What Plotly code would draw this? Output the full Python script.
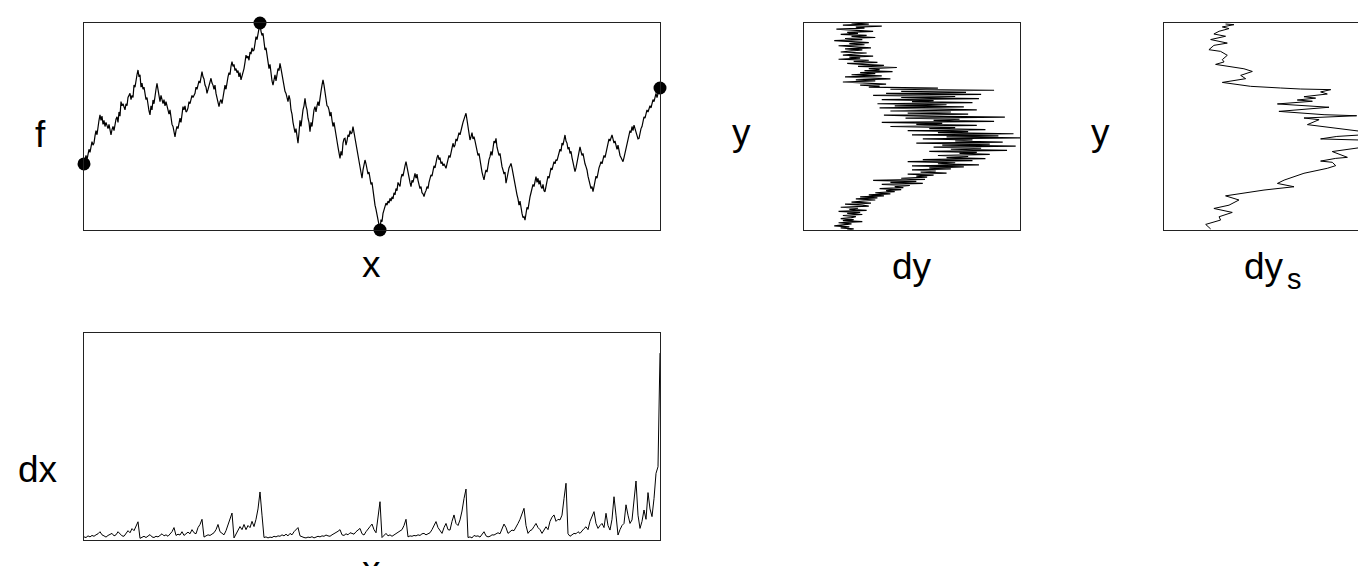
import plotly.graph_objects as go

# ---------------- data ----------------
# f(x): sampled path, x = sample index 0..576
f_values = [
    0.319, 0.345, 0.36, 0.34, 0.37, 0.39, 0.375, 0.40, 0.427, 0.41,
    0.42, 0.455, 0.48, 0.46, 0.51, 0.53, 0.556, 0.53, 0.55, 0.51,
    0.53, 0.50, 0.52, 0.505, 0.49, 0.51, 0.48, 0.459, 0.485, 0.50,
    0.48, 0.52, 0.535, 0.547, 0.52, 0.57, 0.55, 0.62, 0.60, 0.61,
    0.595, 0.58, 0.61, 0.60, 0.64, 0.65, 0.66, 0.63, 0.65, 0.64,
    0.70, 0.69, 0.73, 0.75, 0.773, 0.74, 0.75, 0.69, 0.71, 0.68,
    0.69, 0.65, 0.63, 0.64, 0.59, 0.575, 0.556, 0.60, 0.58, 0.628,
    0.61, 0.66, 0.68, 0.708, 0.67, 0.64, 0.62, 0.65, 0.63, 0.61,
    0.63, 0.60, 0.62, 0.60, 0.58, 0.56, 0.58, 0.53, 0.51, 0.50,
    0.47, 0.45, 0.48, 0.50, 0.49, 0.53, 0.54, 0.52, 0.56, 0.596,
    0.58, 0.60, 0.57, 0.575, 0.59, 0.62, 0.61, 0.63, 0.65, 0.64,
    0.655, 0.66, 0.69, 0.68, 0.70, 0.72, 0.71, 0.74, 0.765, 0.74,
    0.73, 0.70, 0.69, 0.66, 0.68, 0.70, 0.72, 0.733, 0.71, 0.70,
    0.68, 0.70, 0.66, 0.64, 0.62, 0.596, 0.62, 0.63, 0.61, 0.65,
    0.67, 0.70, 0.68, 0.72, 0.74, 0.76, 0.75, 0.79, 0.813, 0.79,
    0.80, 0.77, 0.78, 0.76, 0.77, 0.74, 0.76, 0.725, 0.74, 0.76,
    0.78, 0.81, 0.845, 0.83, 0.84, 0.82, 0.86, 0.85, 0.88, 0.865,
    0.87, 0.90, 0.934, 0.92, 0.95, 0.97, 1.0, 0.96, 0.94, 0.95,
    0.90, 0.87, 0.88, 0.84, 0.82, 0.78, 0.80, 0.74, 0.72, 0.70,
    0.73, 0.75, 0.72, 0.76, 0.78, 0.77, 0.805, 0.78, 0.75, 0.73,
    0.70, 0.67, 0.66, 0.64, 0.62, 0.65, 0.63, 0.58, 0.56, 0.52,
    0.50, 0.47, 0.49, 0.44, 0.419, 0.47, 0.53, 0.50, 0.56, 0.58,
    0.60, 0.636, 0.60, 0.58, 0.54, 0.52, 0.475, 0.52, 0.50, 0.56,
    0.58, 0.596, 0.57, 0.60, 0.62, 0.60, 0.65, 0.67, 0.70, 0.725,
    0.70, 0.66, 0.62, 0.60, 0.596, 0.58, 0.55, 0.57, 0.53, 0.50,
    0.52, 0.483, 0.45, 0.43, 0.40, 0.37, 0.346, 0.38, 0.36, 0.42,
    0.44, 0.443, 0.41, 0.43, 0.46, 0.45, 0.48, 0.465, 0.47, 0.499,
    0.47, 0.44, 0.42, 0.38, 0.354, 0.33, 0.30, 0.27, 0.25, 0.29,
    0.31, 0.338, 0.32, 0.30, 0.27, 0.28, 0.24, 0.22, 0.23, 0.185,
    0.16, 0.12, 0.10, 0.07, 0.05, 0.03, 0.0, 0.05, 0.04, 0.08,
    0.10, 0.113, 0.13, 0.12, 0.14, 0.13, 0.153, 0.14, 0.16, 0.15,
    0.18, 0.17, 0.20, 0.19, 0.23, 0.22, 0.21, 0.25, 0.27, 0.26,
    0.30, 0.31, 0.33, 0.30, 0.27, 0.25, 0.23, 0.21, 0.24, 0.23,
    0.26, 0.274, 0.25, 0.27, 0.24, 0.22, 0.20, 0.21, 0.18, 0.175,
    0.161, 0.18, 0.19, 0.21, 0.20, 0.23, 0.25, 0.266, 0.26, 0.29,
    0.31, 0.30, 0.34, 0.35, 0.362, 0.34, 0.35, 0.32, 0.33, 0.31,
    0.32, 0.305, 0.298, 0.32, 0.34, 0.36, 0.35, 0.38, 0.40, 0.419,
    0.40, 0.41, 0.44, 0.43, 0.45, 0.47, 0.46, 0.49, 0.50, 0.52,
    0.54, 0.55, 0.564, 0.53, 0.50, 0.48, 0.435, 0.45, 0.47, 0.44,
    0.451, 0.43, 0.40, 0.38, 0.36, 0.37, 0.33, 0.30, 0.28, 0.26,
    0.242, 0.27, 0.29, 0.28, 0.32, 0.34, 0.354, 0.38, 0.36, 0.41,
    0.43, 0.42, 0.443, 0.40, 0.38, 0.36, 0.37, 0.33, 0.306, 0.29,
    0.27, 0.28, 0.226, 0.25, 0.28, 0.30, 0.31, 0.322, 0.30, 0.27,
    0.25, 0.22, 0.193, 0.17, 0.15, 0.12, 0.14, 0.10, 0.08, 0.06,
    0.065, 0.048, 0.09, 0.11, 0.10, 0.137, 0.16, 0.18, 0.20, 0.22,
    0.21, 0.24, 0.258, 0.23, 0.25, 0.22, 0.24, 0.21, 0.20, 0.22,
    0.19, 0.185, 0.21, 0.24, 0.26, 0.25, 0.28, 0.30, 0.29, 0.314,
    0.33, 0.32, 0.34, 0.335, 0.354, 0.37, 0.39, 0.38, 0.42, 0.41,
    0.44, 0.459, 0.43, 0.42, 0.39, 0.40, 0.37, 0.38, 0.35, 0.33,
    0.31, 0.282, 0.30, 0.33, 0.36, 0.38, 0.402, 0.38, 0.36, 0.37,
    0.34, 0.32, 0.306, 0.29, 0.26, 0.24, 0.22, 0.20, 0.21, 0.185,
    0.21, 0.24, 0.26, 0.25, 0.28, 0.30, 0.314, 0.33, 0.32, 0.35,
    0.36, 0.35, 0.37, 0.39, 0.41, 0.44, 0.43, 0.45, 0.459, 0.44,
    0.42, 0.43, 0.40, 0.39, 0.41, 0.38, 0.36, 0.35, 0.34, 0.33,
    0.35, 0.37, 0.39, 0.42, 0.44, 0.46, 0.48, 0.47, 0.50, 0.48,
    0.507, 0.49, 0.47, 0.46, 0.44, 0.443, 0.47, 0.49, 0.50, 0.52,
    0.547, 0.54, 0.56, 0.58, 0.57, 0.588, 0.60, 0.59, 0.62, 0.63,
    0.62, 0.65, 0.66, 0.64, 0.67, 0.68, 0.686,
]
f_x = list(range(len(f_values)))

# special points (start, max, min, end)
mark_x = [0, 176, 296, 576]
mark_f = [0.319, 1.0, 0.0, 0.686]

# dx(x): sampled every 2 units of x
dx_values = [
    0.015, 0.012, 0.02, 0.015, 0.022, 0.018, 0.025, 0.03, 0.04, 0.025,
    0.02, 0.014, 0.022, 0.028, 0.032, 0.02, 0.025, 0.04, 0.028, 0.02,
    0.018, 0.03, 0.045, 0.035, 0.055, 0.045, 0.07, 0.088, 0.008, 0.015,
    0.018, 0.012, 0.02, 0.026, 0.015, 0.012, 0.018, 0.015, 0.022, 0.03,
    0.02, 0.025, 0.018, 0.03, 0.04, 0.06, 0.022, 0.028, 0.024, 0.04,
    0.022, 0.03, 0.038, 0.03, 0.05, 0.035, 0.03, 0.06, 0.075, 0.1,
    0.014, 0.02, 0.025, 0.022, 0.03, 0.035, 0.05, 0.075, 0.04, 0.03,
    0.025, 0.045, 0.07, 0.1, 0.13, 0.01, 0.03, 0.05, 0.065, 0.05,
    0.075, 0.05, 0.07, 0.06, 0.09, 0.065, 0.1, 0.15, 0.232, 0.12,
    0.012, 0.015, 0.01, 0.014, 0.012, 0.018, 0.015, 0.02, 0.018, 0.025,
    0.02, 0.028, 0.02, 0.032, 0.025, 0.04, 0.05, 0.06, 0.02, 0.015,
    0.012, 0.01, 0.014, 0.012, 0.016, 0.01, 0.014, 0.018, 0.015, 0.02,
    0.018, 0.024, 0.02, 0.018, 0.025, 0.03, 0.035, 0.042, 0.05, 0.025,
    0.022, 0.03, 0.025, 0.035, 0.032, 0.028, 0.04, 0.05, 0.056, 0.03,
    0.024, 0.04, 0.05, 0.065, 0.077, 0.05, 0.035, 0.113, 0.185, 0.012,
    0.02, 0.032, 0.02, 0.025, 0.018, 0.024, 0.03, 0.035, 0.04, 0.05,
    0.07, 0.1, 0.015, 0.02, 0.018, 0.022, 0.02, 0.025, 0.022, 0.03,
    0.032, 0.025, 0.03, 0.035, 0.05, 0.07, 0.089, 0.06, 0.045, 0.032,
    0.06, 0.08, 0.05, 0.048, 0.09, 0.121, 0.08, 0.07, 0.097, 0.14,
    0.2, 0.246, 0.012, 0.015, 0.01, 0.022, 0.018, 0.02, 0.014, 0.03,
    0.04, 0.02, 0.015, 0.018, 0.025, 0.024, 0.03, 0.035, 0.03, 0.05,
    0.077, 0.06, 0.032, 0.04, 0.048, 0.045, 0.06, 0.08, 0.1, 0.13,
    0.153, 0.07, 0.032, 0.045, 0.05, 0.065, 0.08, 0.06, 0.05, 0.032,
    0.05, 0.064, 0.05, 0.09, 0.11, 0.121, 0.09, 0.1, 0.097, 0.12,
    0.2, 0.274, 0.03, 0.018, 0.025, 0.032, 0.03, 0.04, 0.032, 0.045,
    0.055, 0.064, 0.05, 0.09, 0.11, 0.137, 0.08, 0.056, 0.07, 0.08,
    0.06, 0.129, 0.07, 0.048, 0.1, 0.209, 0.12, 0.024, 0.05, 0.07,
    0.08, 0.17, 0.12, 0.08, 0.097, 0.2, 0.285, 0.12, 0.056, 0.09,
    0.145, 0.1, 0.229, 0.15, 0.113, 0.2, 0.322, 0.354, 0.903,
]
dx_x = list(range(0, 2 * len(dx_values), 2))

# dy(y): raw profile, y levels from 1.0 down to 0.0 in steps of 0.005
dy_levels = [round(1.0 - 0.005 * i, 3) for i in range(201)]
dy_values = [
    0.22, 0.30, 0.18, 0.36, 0.24, 0.28, 0.15, 0.26, 0.32, 0.20,
    0.25, 0.17, 0.29, 0.22, 0.33, 0.19, 0.27, 0.14, 0.24, 0.30,
    0.21, 0.28, 0.16, 0.25, 0.31, 0.19, 0.27, 0.22, 0.17, 0.29,
    0.24, 0.18, 0.32, 0.21, 0.26, 0.16, 0.30, 0.23, 0.34, 0.20,
    0.27, 0.37, 0.25, 0.43, 0.30, 0.35, 0.28, 0.41, 0.26, 0.33,
    0.22, 0.36, 0.19, 0.30, 0.40, 0.24, 0.33, 0.18, 0.28, 0.38,
    0.26, 0.35, 0.30, 0.62, 0.40, 0.88, 0.45, 0.75, 0.38, 0.82,
    0.32, 0.70, 0.45, 0.81, 0.36, 0.60, 0.50, 0.78, 0.34, 0.66,
    0.42, 0.74, 0.35, 0.58, 0.80, 0.40, 0.68, 0.48, 0.76, 0.37,
    0.55, 0.93, 0.47, 0.72, 0.60, 0.88, 0.36, 0.64, 0.52, 0.80,
    0.40, 0.70, 0.58, 0.84, 0.48, 0.76, 0.62, 0.97, 0.50, 0.90,
    0.66, 1.00, 0.55, 0.78, 0.70, 0.92, 0.52, 0.86, 0.64, 0.98,
    0.60, 0.82, 0.68, 0.94, 0.58, 0.80, 0.72, 0.86, 0.62, 0.76,
    0.66, 0.84, 0.55, 0.78, 0.48, 0.70, 0.62, 0.81, 0.50, 0.74,
    0.58, 0.68, 0.50, 0.61, 0.54, 0.66, 0.48, 0.60, 0.52, 0.57,
    0.45, 0.56, 0.32, 0.52, 0.40, 0.55, 0.36, 0.49, 0.42, 0.46,
    0.35, 0.45, 0.38, 0.42, 0.33, 0.40, 0.30, 0.37, 0.26, 0.34,
    0.24, 0.33, 0.28, 0.22, 0.31, 0.19, 0.27, 0.30, 0.17, 0.25,
    0.21, 0.29, 0.16, 0.26, 0.20, 0.27, 0.18, 0.24, 0.22, 0.17,
    0.23, 0.18, 0.27, 0.16, 0.22, 0.19, 0.14, 0.21, 0.17, 0.23,
    0.20,
]

# dy_s(y): smoothed profile
dys_levels = [
    0.995, 0.992, 0.981, 0.973, 0.96, 0.947, 0.936, 0.92, 0.903, 0.892,
    0.871, 0.863, 0.844, 0.823, 0.812, 0.80, 0.779, 0.766, 0.747, 0.731,
    0.713, 0.694, 0.686, 0.681, 0.678, 0.667, 0.657, 0.644, 0.637, 0.628,
    0.622, 0.609, 0.593, 0.573, 0.557, 0.552, 0.541, 0.533, 0.509, 0.499,
    0.491, 0.465, 0.452, 0.44, 0.432, 0.42, 0.407, 0.379, 0.351, 0.346,
    0.333, 0.327, 0.311, 0.298, 0.274, 0.258, 0.241, 0.225, 0.209, 0.193,
    0.177, 0.165, 0.145, 0.12, 0.104, 0.085, 0.064, 0.048, 0.027, 0.005,
]
dys_values = [
    0.285, 0.324, 0.27, 0.301, 0.255, 0.231, 0.285, 0.216, 0.293, 0.231,
    0.208, 0.262, 0.293, 0.27, 0.278, 0.239, 0.37, 0.409, 0.355, 0.378,
    0.27, 0.401, 0.54, 0.633, 0.772, 0.725, 0.756, 0.648, 0.702, 0.617,
    0.687, 0.525, 0.764, 0.532, 0.741, 0.892, 0.648, 0.718, 0.664, 0.741,
    0.779, 1.0, 0.80, 0.725, 1.0, 0.90, 0.97, 0.779, 0.849, 0.795,
    0.725, 0.779, 0.795, 0.756, 0.648, 0.602, 0.556, 0.525, 0.602, 0.463,
    0.37, 0.285, 0.347, 0.301, 0.231, 0.316, 0.255, 0.262, 0.193, 0.216,
]

# ---------------- figure ----------------
# the page adds an 8 px body margin, so the figure is 8 px smaller
OFF = 8
W, H = 1366 - OFF, 566 - OFF
LINE = dict(color="black", width=1.2)

fig = go.Figure()
fig.add_trace(go.Scatter(x=f_x, y=f_values, mode="lines", line=LINE,
                         xaxis="x", yaxis="y", hoverinfo="skip"))
fig.add_trace(go.Scatter(x=mark_x, y=mark_f, mode="markers",
                         marker=dict(color="black", size=13),
                         cliponaxis=False, xaxis="x", yaxis="y"))
fig.add_trace(go.Scatter(x=dy_values, y=dy_levels, mode="lines", line=LINE,
                         xaxis="x2", yaxis="y2"))
fig.add_trace(go.Scatter(x=dys_values, y=dys_levels, mode="lines",
                         line=dict(color="black", width=1),
                         xaxis="x3", yaxis="y3"))
fig.add_trace(go.Scatter(x=dx_x, y=dx_values, mode="lines",
                         line=dict(color="black", width=1),
                         xaxis="x4", yaxis="y4"))


def px_x(p):
    return (p - OFF) / W


def px_y(p):
    return (H - (p - OFF)) / H


top_dom = [px_y(230), px_y(23)]
bot_dom = [px_y(540), px_y(333)]

ax_common = dict(showgrid=False, zeroline=False, showticklabels=False,
                 ticks="", showline=True, linecolor="#222", linewidth=1.2,
                 fixedrange=True)

fig.update_layout(
    width=W, height=H, margin=dict(l=0, r=0, t=0, b=0),
    paper_bgcolor="white", plot_bgcolor="white", showlegend=False,
    font=dict(family="Liberation Sans, Arial, sans-serif", color="black"),
    xaxis=dict(domain=[px_x(84), px_x(660)], range=[0, 576], mirror=True,
               anchor="y", **ax_common),
    yaxis=dict(domain=top_dom, range=[0, 1], mirror=True, anchor="x",
               **ax_common),
    xaxis2=dict(domain=[px_x(804), px_x(1020)], range=[0, 1.0], mirror=True,
                anchor="y2", **ax_common),
    yaxis2=dict(domain=top_dom, range=[0, 1], mirror=True, anchor="x2",
                **ax_common),
    xaxis3=dict(domain=[px_x(1164), 1.0], range=[0, 202 / 216], mirror=True,
                anchor="y3", **ax_common),
    yaxis3=dict(domain=top_dom, range=[0, 1], mirror=False, anchor="x3",
                **ax_common),
    xaxis4=dict(domain=[px_x(84), px_x(660)], range=[0, 576], mirror=True,
                anchor="y4", **ax_common),
    yaxis4=dict(domain=bot_dom, range=[0, 1], mirror=True, anchor="x4",
                **ax_common),
)

FS = 37
labels = [
    ("f", 40, 135, "middle", FS),
    ("x", 371, 264, "middle", FS),
    ("y", 741, 133, "middle", FS),
    ("dy", 912, 266, "middle", FS),
    ("y", 1100, 133, "middle", FS),
    ("dy", 1264, 266, "middle", FS),
    ("s", 1294, 297, "bottom", 29),
    ("dx", 38, 470, "middle", FS),
    ("x", 371, 547, "top", FS),
]
for text, lx, ly, ya, size in labels:
    fig.add_annotation(text=text, x=px_x(lx), y=px_y(ly), xref="paper",
                       yref="paper", showarrow=False, xanchor="center",
                       yanchor=ya, font=dict(size=size, color="black"))

fig.write_html("out.html")
